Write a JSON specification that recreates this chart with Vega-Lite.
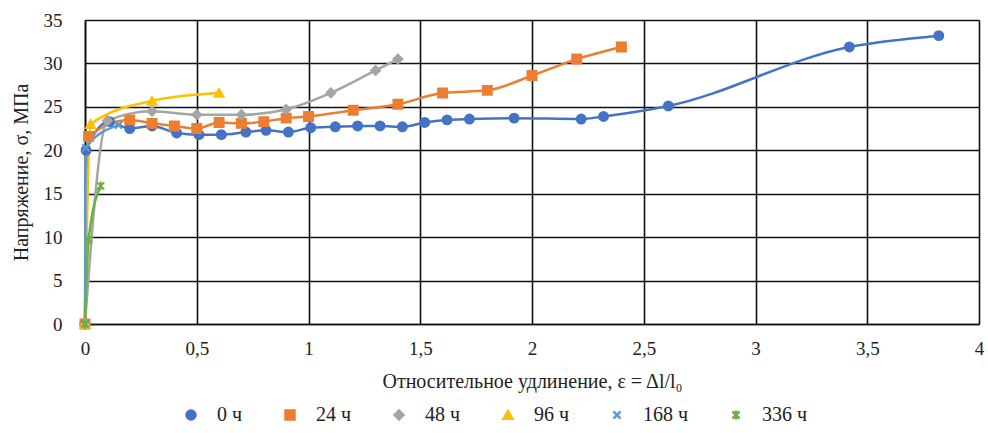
{
  "$schema": "https://vega.github.io/schema/vega-lite/v6.json",
  "autosize": {"type": "none"},
  "padding": {"left": 85, "top": 20, "right": 9, "bottom": 109},
  "width": 894,
  "height": 304,
  "background": "white",
  "config": {
    "font": "Liberation Serif",
    "view": {"stroke": null},
    "axis": {
      "labelColor": "#222222",
      "titleColor": "#222222",
      "labelFontSize": 19,
      "titleFontSize": 20,
      "titleFontWeight": "normal",
      "gridColor": "#111111",
      "gridWidth": 1.6,
      "gridOpacity": 1,
      "domainColor": "#111111",
      "domainWidth": 1.6,
      "ticks": false
    },
    "legend": {
      "labelFontSize": 20,
      "labelColor": "#222222"
    }
  },
  "data": {
    "values": [
      {"s": "0 ч", "x": 0, "y": 0},
      {"s": "0 ч", "x": 0.005, "y": 20.0},
      {"s": "0 ч", "x": 0.11, "y": 23.3},
      {"s": "0 ч", "x": 0.2, "y": 22.5},
      {"s": "0 ч", "x": 0.3, "y": 22.8},
      {"s": "0 ч", "x": 0.41, "y": 22.0},
      {"s": "0 ч", "x": 0.51, "y": 21.8},
      {"s": "0 ч", "x": 0.61, "y": 21.8},
      {"s": "0 ч", "x": 0.72, "y": 22.1},
      {"s": "0 ч", "x": 0.81, "y": 22.3},
      {"s": "0 ч", "x": 0.91, "y": 22.1},
      {"s": "0 ч", "x": 1.01, "y": 22.6},
      {"s": "0 ч", "x": 1.12, "y": 22.7},
      {"s": "0 ч", "x": 1.22, "y": 22.8},
      {"s": "0 ч", "x": 1.32, "y": 22.8},
      {"s": "0 ч", "x": 1.42, "y": 22.7},
      {"s": "0 ч", "x": 1.52, "y": 23.2},
      {"s": "0 ч", "x": 1.62, "y": 23.5},
      {"s": "0 ч", "x": 1.72, "y": 23.6},
      {"s": "0 ч", "x": 1.92, "y": 23.7},
      {"s": "0 ч", "x": 2.22, "y": 23.6},
      {"s": "0 ч", "x": 2.32, "y": 23.9},
      {"s": "0 ч", "x": 2.61, "y": 25.1},
      {"s": "0 ч", "x": 3.42, "y": 31.9},
      {"s": "0 ч", "x": 3.82, "y": 33.2},
      {"s": "24 ч", "x": 0, "y": 0},
      {"s": "24 ч", "x": 0.016, "y": 21.6},
      {"s": "24 ч", "x": 0.2, "y": 23.5},
      {"s": "24 ч", "x": 0.3, "y": 23.1},
      {"s": "24 ч", "x": 0.4, "y": 22.8},
      {"s": "24 ч", "x": 0.5, "y": 22.5},
      {"s": "24 ч", "x": 0.6, "y": 23.2},
      {"s": "24 ч", "x": 0.7, "y": 23.1},
      {"s": "24 ч", "x": 0.8, "y": 23.3},
      {"s": "24 ч", "x": 0.9, "y": 23.7},
      {"s": "24 ч", "x": 1.0, "y": 23.9},
      {"s": "24 ч", "x": 1.2, "y": 24.6},
      {"s": "24 ч", "x": 1.4, "y": 25.3},
      {"s": "24 ч", "x": 1.6, "y": 26.6},
      {"s": "24 ч", "x": 1.8, "y": 26.9},
      {"s": "24 ч", "x": 2.0, "y": 28.6},
      {"s": "24 ч", "x": 2.2, "y": 30.5},
      {"s": "24 ч", "x": 2.4, "y": 31.9},
      {"s": "48 ч", "x": 0, "y": 0},
      {"s": "48 ч", "x": 0.1, "y": 23.4},
      {"s": "48 ч", "x": 0.3, "y": 24.5},
      {"s": "48 ч", "x": 0.5, "y": 24.1},
      {"s": "48 ч", "x": 0.7, "y": 24.1},
      {"s": "48 ч", "x": 0.9, "y": 24.7},
      {"s": "48 ч", "x": 1.1, "y": 26.6},
      {"s": "48 ч", "x": 1.3, "y": 29.2},
      {"s": "48 ч", "x": 1.4, "y": 30.5},
      {"s": "96 ч", "x": 0, "y": 0},
      {"s": "96 ч", "x": 0.025, "y": 23},
      {"s": "96 ч", "x": 0.3, "y": 25.7},
      {"s": "96 ч", "x": 0.6, "y": 26.6},
      {"s": "168 ч", "x": 0, "y": 0},
      {"s": "168 ч", "x": 0.003, "y": 20.3},
      {"s": "168 ч", "x": 0.15, "y": 22.9},
      {"s": "336 ч", "x": 0, "y": 0},
      {"s": "336 ч", "x": 0.016, "y": 9.7},
      {"s": "336 ч", "x": 0.07, "y": 15.9}
    ]
  },
  "encoding": {
    "x": {
      "field": "x",
      "type": "quantitative",
      "scale": {"domain": [0, 4], "nice": false},
      "axis": {
        "values": [0, 0.5, 1, 1.5, 2, 2.5, 3, 3.5, 4],
        "labelExpr": "replace(format(datum.value, '~g'), '.', ',')",
        "labelFlush": false,
        "labelPadding": 15,
        "title": "Относительное удлинение, ε = Δl/l₀",
        "titlePadding": 13
      }
    },
    "y": {
      "field": "y",
      "type": "quantitative",
      "scale": {"domain": [0, 35], "nice": false},
      "axis": {
        "values": [0, 5, 10, 15, 20, 25, 30, 35],
        "labelPadding": 23,
        "title": "Напряжение, σ, МПа",
        "titlePadding": 12
      }
    },
    "color": {
      "field": "s",
      "type": "nominal",
      "scale": {
        "domain": ["0 ч", "24 ч", "48 ч", "96 ч", "168 ч", "336 ч"],
        "range": ["#4472C4", "#ED7D31", "#A5A5A5", "#FFC000", "#5B9BD5", "#70AD47"]
      },
      "legend": {
        "title": null,
        "orient": "none",
        "legendX": 96,
        "legendY": 385,
        "direction": "horizontal",
        "symbolSize": 80,
        "symbolStrokeWidth": 2.5,
        "labelOffset": 16,
        "columnPadding": 37,
        "encode": {
          "symbols": {
            "update": {
              "stroke": {"scale": "color", "field": "value"}
            }
          }
        }
      }
    }
  },
  "layer": [
    {
      "mark": {"type": "line", "interpolate": "monotone", "strokeWidth": 2.5},
      "encoding": {"detail": {"field": "s"}}
    },
    {
      "mark": {"type": "point", "filled": true, "size": 80, "strokeWidth": 2, "opacity": 1},
      "encoding": {
        "shape": {
          "field": "s",
          "type": "nominal",
          "scale": {
            "domain": ["0 ч", "24 ч", "48 ч", "96 ч", "168 ч", "336 ч"],
            "range": ["circle", "square", "diamond", "triangle-up", "M-0.8,-0.8L0.8,0.8M-0.8,0.8L0.8,-0.8", "M-0.8,-0.8L0.8,0.8M-0.8,0.8L0.8,-0.8M0,-1L0,1"]
          },
          "legend": null
        },
        "stroke": {
          "field": "s",
          "type": "nominal",
          "scale": {
            "domain": ["0 ч", "24 ч", "48 ч", "96 ч", "168 ч", "336 ч"],
            "range": ["#4472C4", "#ED7D31", "#A5A5A5", "#FFC000", "#5B9BD5", "#70AD47"]
          },
          "legend": null
        }
      }
    }
  ]
}
